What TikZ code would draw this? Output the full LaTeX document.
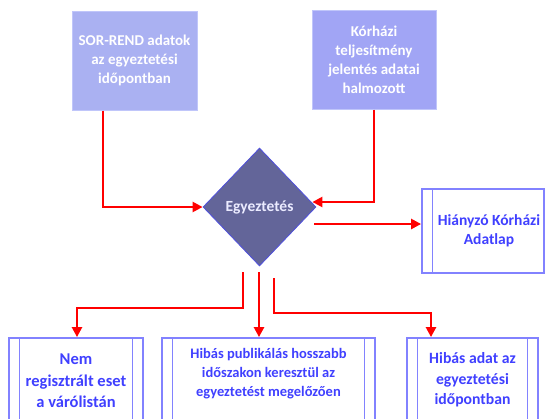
\documentclass[tikz,border=0pt]{standalone}
\usepackage{fontspec}
\setmainfont{Carlito}
\usetikzlibrary{shapes.geometric,arrows.meta,calc}

\definecolor{srcfill}{RGB}{170,177,242}
\definecolor{srcfillb}{RGB}{161,165,245}
\definecolor{srcedge}{RGB}{192,198,250}
\definecolor{decfill}{RGB}{99,101,153}
\definecolor{decedge}{RGB}{80,80,220}
\definecolor{outedge}{RGB}{130,130,255}
\definecolor{outtext}{RGB}{64,64,255}
\definecolor{flowred}{RGB}{255,0,0}

\tikzset{
  srcbox/.style={draw=srcedge, line width=1pt, inner sep=0pt, align=center,
    text=white, minimum height=99pt,
    font=\bfseries\fontsize{15}{19}\selectfont},
  decbox/.style={shape=diamond, draw=decedge, line width=0.8pt, fill=decfill,
    inner sep=0pt, minimum width=113pt, minimum height=118pt,
    text=white!92!blue, font=\bfseries\fontsize{15.5}{18}\selectfont},
  procbox/.style={draw=outedge, line width=1.8pt, fill=white, inner sep=0pt,
    path picture={
      \draw[outedge, line width=1.8pt]
        ([xshift=10.5pt]path picture bounding box.north west) --
        ([xshift=10.5pt]path picture bounding box.south west);
      \draw[outedge, line width=1.8pt]
        ([xshift=-10.5pt]path picture bounding box.north east) --
        ([xshift=-10.5pt]path picture bounding box.south east);}},
  halfproc/.style={draw=outedge, line width=1.8pt, fill=white, inner sep=0pt,
    path picture={
      \draw[outedge, line width=1.8pt]
        ([xshift=10.5pt]path picture bounding box.north west) --
        ([xshift=10.5pt]path picture bounding box.south west);}},
  proctext/.style={align=center, text=outtext, inner sep=0pt},
  flow/.style={draw=flowred, line width=2.4pt,
    -{Triangle[length=10pt,width=10pt]}}
}

\begin{document}
\begin{tikzpicture}[x=1pt,y=-1pt]
  \useasboundingbox (0,0) rectangle (546,418);
  \clip (0,0) rectangle (546,418);

  % source data boxes
  \node[srcbox, fill=srcfill, minimum width=125pt] (s1) at (134.5,60.5)
    {SOR-REND adatok\\az egyeztetési\\időpontban};
  \node[srcbox, fill=srcfillb, minimum width=124pt] (s2) at (374,59.5)
    {Kórházi\\teljesítmény\\jelentés adatai\\halmozott};

  % decision
  \node[decbox] (dec) at (259.5,207) {Egyeztetés};

  % result boxes
  \node[halfproc, minimum width=122pt, minimum height=84pt] (miss) at (483,231) {};
  \node[proctext, font=\bfseries\fontsize{15.5}{19}\selectfont] (missT) at (489,231)
    {Hiányzó Kórházi\\Adatlap};

  \node[procbox, minimum width=134pt, minimum height=100pt] (nA) at (76,388) {};
  \node[proctext, font=\bfseries\fontsize{16.5}{21.5}\selectfont] (nAT) at (76,381)
    {Nem\\regisztrált eset\\a várólistán};

  \node[procbox, minimum width=213pt, minimum height=100pt] (nB) at (268.5,388) {};
  \node[proctext, font=\bfseries\fontsize{14.5}{19}\selectfont] (nBT) at (268.5,374)
    {Hibás publikálás hosszabb\\időszakon keresztül az\\egyeztetést megelőzően};

  \node[procbox, minimum width=131pt, minimum height=100pt] (nC) at (472.5,388) {};
  \node[proctext, font=\bfseries\fontsize{15.7}{20.5}\selectfont] (nCT) at (472.5,380)
    {Hibás adat az\\egyeztetési\\időpontban};

  % connector end points
  \coordinate (inR) at ($(dec.east)+(-4,-5)$);
  \coordinate (outR) at (314,224);
  \coordinate (b1) at (243,272);
  \coordinate (b2) at (259,272);
  \coordinate (b3) at (274,278);

  % flows into the decision
  \draw[flow] ([xshift=-31.5pt]s1.south) |- (dec.west);
  \draw[flow] (s2.south) |- (inR);

  % flows out of the decision
  \draw[flow] (outR) -- (outR -| miss.west);
  \draw[flow] (b1) -- ++(0,36) -| ([xshift=1pt]nA.north);
  \draw[flow] (b2) -- (b2 |- nB.north);
  \draw[flow] (b3) -- ++(0,35) -| ([xshift=-41.5pt]nC.north);
\end{tikzpicture}
\end{document}
